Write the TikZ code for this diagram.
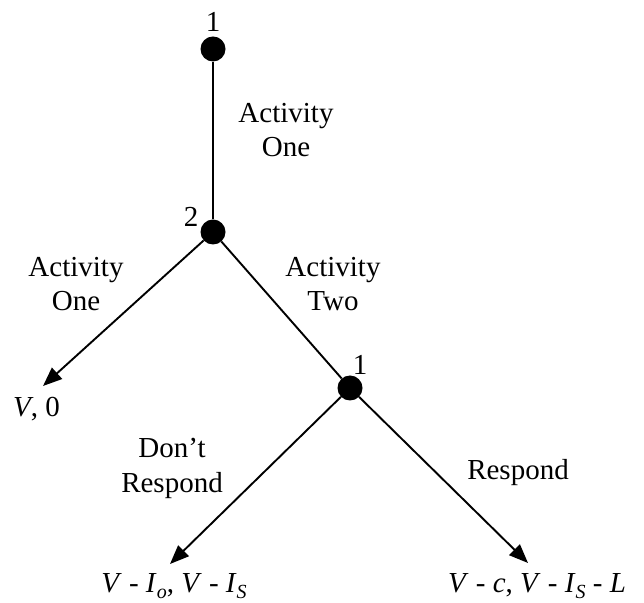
\documentclass[tikz,border=0pt]{standalone}
\usepackage{fontspec}
\setmainfont{Liberation Serif}
\usetikzlibrary{arrows.meta}
\newcommand\lowsub[1]{\raisebox{-0.22em}{\fontsize{20}{20}\selectfont\textit{#1}}}
\begin{document}
\begin{tikzpicture}[x=1pt,y=1pt,
  dotnode/.style={circle,fill=black,minimum size=25pt,inner sep=0pt},
  lbl/.style={font=\fontsize{29}{34}\selectfont,align=center,inner sep=0pt,anchor=base},
  edge/.style={line width=1.9pt},
  arr/.style={line width=1.9pt,-{Triangle[length=19pt,width=15pt]}}]
\useasboundingbox (0,0) rectangle (644,602);
\node[dotnode] (n1) at (213,553) {};
\node[dotnode] (n2) at (213,370) {};
\node[dotnode] (n3) at (350,214) {};
\coordinate (tL) at (43,216);
\coordinate (tLL) at (170,38);
\coordinate (tRR) at (528,39);
\draw[edge] (n1) -- (n2);
\draw[edge] (n2) -- (n3);
\draw[arr] (n2) -- (tL);
\draw[arr] (n3) -- (tLL);
\draw[arr] (n3) -- (tRR);
\node[lbl] (l1) at (213,570) {1};
\node[lbl] (l2) at (191,375) {2};
\node[lbl] (l3) at (360,227) {1};
\node[lbl] (a1) at (286,479) {Activity};
\node[lbl] (a1b) at (286,445) {One};
\node[lbl] (a2) at (76,325) {Activity};
\node[lbl] (a2b) at (76,291) {One};
\node[lbl] (a3) at (333,325) {Activity};
\node[lbl] (a3b) at (333,291) {Two};
\node[lbl] (a4) at (172,144) {Don’t};
\node[lbl] (a4b) at (172,110) {Respond};
\node[lbl] (a5) at (518,123) {Respond};
\node[lbl,anchor=base west] (p1) at (13,185) {\textit{V}, 0};
\node[lbl] (p2) at (174,10) {\textit{V} - \textit{I}\lowsub{o}, \textit{V} - \textit{I}\lowsub{S}};
\node[lbl] (p3) at (537,10) {\textit{V} - \textit{c}, \textit{V} - \textit{I}\lowsub{S} - \textit{L}};
\end{tikzpicture}
\end{document}
